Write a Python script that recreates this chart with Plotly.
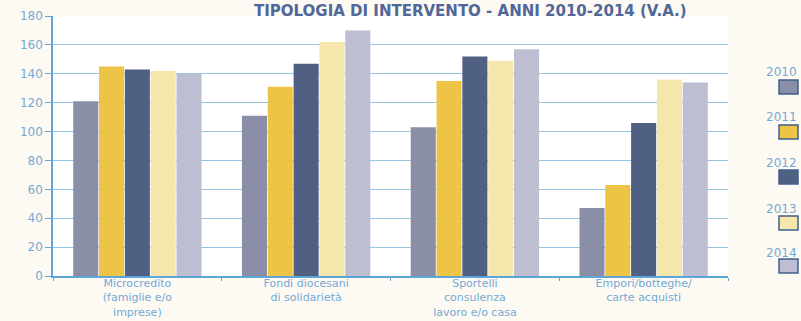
import plotly.graph_objects as go

categories = ["Microcredito<br>(famiglie e/o<br>imprese)",
              "Fondi diocesani<br>di solidarietà",
              "Sportelli<br>consulenza<br>lavoro e/o casa",
              "Empori/botteghe/<br>carte acquisti"]
years = ["2010", "2011", "2012", "2013", "2014"]
values = {
    "2010": [121, 111, 103, 47],
    "2011": [145, 131, 135, 63],
    "2012": [143, 147, 152, 106],
    "2013": [142, 162, 149, 136],
    "2014": [140, 170, 157, 134],
}
colors = ["#8a8ea6", "#eec446", "#4f6082", "#f5e7ac", "#bdbed1"]
yticks = [0, 20, 40, 60, 80, 100, 120, 140, 160, 180]

fig = go.Figure()
for yr, c in zip(years, colors):
    fig.add_trace(go.Bar(x=categories, y=values[yr], name=yr,
                         marker=dict(color=c, line=dict(width=0))))

font_family = "DejaVu Sans"
axis_blue = "#5fa6d6"
label_blue = "#74a9d4"

fig.update_layout(
    width=801, height=321,
    margin=dict(l=53, r=73, t=16, b=45),
    paper_bgcolor="#fdf9f3",
    plot_bgcolor="#ffffff",
    showlegend=False,
    barmode="group",
    bargap=0.235,
    bargroupgap=0.03,
    font=dict(family=font_family, size=11, color=label_blue),
)
fig.update_yaxes(range=[0, 180], tickvals=yticks, showgrid=True,
                 gridcolor="#94c5e5", gridwidth=1,
                 showline=True, linecolor=axis_blue, linewidth=1.5,
                 ticks="outside", ticklen=6, tickcolor=axis_blue,
                 tickfont=dict(size=12, color=label_blue),
                 zeroline=False, automargin=False)
fig.update_xaxes(showline=True, linecolor=axis_blue, linewidth=1.5,
                 ticks="outside", tickson="boundaries", ticklen=3,
                 tickcolor=axis_blue, automargin=False,
                 ticklabelstandoff=-4,
                 tickfont=dict(size=11, color=label_blue))

# title
fig.add_annotation(text="<b>TIPOLOGIA DI INTERVENTO - ANNI 2010-2014 (V.A.)</b>",
                   xref="paper", yref="paper", x=(470 - 53) / 675,
                   y=(276 - 0) / 260,
                   xanchor="center", yanchor="top",
                   showarrow=False,
                   font=dict(family=font_family, size=15, color="#50679a"))

# custom legend: label above swatch
label_y = [72, 117, 163, 209, 253]
sw_top = [80, 125, 170, 216, 259]
for yr, c, ly, st in zip(years, colors, label_y, sw_top):
    fig.add_annotation(text=yr, xref="paper", yref="paper",
                       x=(799 - 53) / 675, y=(276 - ly) / 260,
                       xanchor="right", yanchor="middle", showarrow=False,
                       font=dict(family=font_family, size=12, color=label_blue))
    fig.add_shape(type="rect", xref="paper", yref="paper",
                  x0=(779 - 53) / 675, x1=(798 - 53) / 675,
                  y0=(276 - st - 14) / 260, y1=(276 - st) / 260,
                  fillcolor=c, line=dict(color="#3f5f8c", width=1.5))

fig.write_html("out.html")
